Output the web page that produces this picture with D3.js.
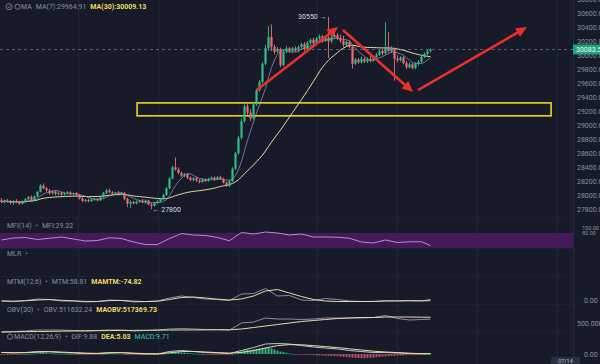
<!DOCTYPE html>
<html>
<head>
<meta charset="utf-8">
<script src="https://cdn.jsdelivr.net/npm/d3@7"></script>
<style>
  html, body { margin: 0; padding: 0; background: #161a29; }
  svg { display: block; font-family: Roboto, "Noto Sans", sans-serif; }
</style>
</head>
<body>
<svg id="chart" width="600" height="364"></svg>
<script>
// candles: [open, high, low, close]
var candles = [
  [27930,27960,27890,27905],[27905,27940,27880,27925],[27925,27950,27895,27910],[27910,27935,27870,27890],
  [27890,27930,27860,27915],[27915,27945,27890,27900],[27900,27920,27865,27880],[27880,27925,27870,27910],
  [27910,27960,27900,27945],[27945,27990,27930,27975],[27975,28000,27920,27935],[27935,28000,27925,27985],
  [27985,28060,27970,28050],[28050,28160,28040,28140],[28140,28170,28090,28100],[28100,28120,28050,28070],
  [28070,28090,28010,28030],[28030,28070,28010,28055],[28055,28070,28000,28020],[28020,28050,28000,28035],
  [28035,28050,27990,28010],[28010,28040,27995,28025],[28025,28060,28010,28040],[28040,28055,28000,28015],
  [28015,28040,27995,28030],[28030,28045,27990,28005],[28005,28020,27940,27955],[27955,27975,27900,27920],
  [27920,27950,27900,27935],[27935,27950,27900,27915],[27915,27955,27905,27940],[27940,27965,27920,27950],
  [27950,27965,27915,27930],[27930,27990,27920,27975],[27975,28050,27960,28035],[28035,28090,28020,28070],
  [28070,28095,28030,28045],[28045,28060,28010,28025],[28025,28050,28005,28040],[28040,28060,27995,28010],
  [28010,28045,28000,28030],[28030,28050,27930,27950],[27950,27965,27830,27880],[27880,27930,27820,27905],
  [27905,27920,27870,27885],[27885,27925,27870,27910],[27910,27935,27890,27925],[27925,27950,27890,27900],
  [27900,27940,27880,27925],[27925,27935,27860,27870],[27870,27890,27800,27850],[27850,27905,27840,27890],
  [27890,27930,27875,27915],[27915,27960,27900,27945],[27945,28020,27935,28005],[28005,28120,27990,28100],
  [28100,28260,28090,28240],[28240,28420,28230,28400],[28400,28540,28350,28370],[28370,28400,28300,28320],
  [28320,28340,28260,28280],[28280,28320,28260,28300],[28300,28320,28230,28250],[28250,28270,28200,28220],
  [28220,28260,28200,28245],[28245,28260,28190,28210],[28210,28230,28170,28190],[28190,28240,28180,28225],
  [28225,28240,28190,28205],[28205,28250,28195,28235],[28235,28270,28220,28255],[28255,28270,28210,28225],
  [28225,28275,28215,28260],[28260,28280,28220,28235],[28235,28250,28170,28180],[28180,28200,28120,28140],
  [28140,28220,28120,28200],[28200,28400,28190,28380],[28380,28620,28360,28600],[28600,28850,28580,28820],
  [28820,29100,28800,29060],[29060,29300,29040,29270],[29270,29320,29150,29180],[29180,29230,29060,29100],
  [29100,29330,29080,29300],[29300,29520,29280,29500],[29500,29650,29480,29620],[29620,29900,29600,29880],
  [29880,30150,29860,30100],[30100,30420,30060,30260],[30260,30440,30060,30120],[30120,30150,30010,30050],
  [30050,30120,30030,30090],[30090,30110,29830,29860],[29860,30080,29840,30050],[30050,30130,30030,30100],
  [30100,30120,30040,30060],[30060,30120,30040,30100],[30100,30130,30050,30070],[30070,30140,30050,30120],
  [30120,30180,30100,30160],[30160,30190,30060,30090],[30090,30200,30070,30180],[30180,30240,30150,30220],
  [30220,30250,30140,30170],[30170,30260,30150,30240],[30240,30300,30200,30270],[30270,30290,30180,30210],
  [30210,30270,30190,30250],[30250,30550,29960,30200],[30200,30280,30180,30260],[30260,30310,30230,30290],
  [30290,30320,30220,30240],[30240,30300,30180,30210],[30210,30280,30120,30150],[30150,30210,30130,30190],
  [30190,30210,30100,30120],[30120,30140,29810,29880],[29880,29960,29860,29940],[29940,29960,29880,29900],
  [29900,29980,29880,29950],[29950,29970,29890,29910],[29910,29970,29890,29945],[29945,29990,29900,29925],
  [29925,29990,29910,29975],[29975,30030,29950,30010],[30010,30080,29990,30060],[30060,30090,30000,30030],
  [30030,30470,30010,30110],[30110,30330,30040,30060],[30060,30130,30030,30100],[30100,30110,29640,29950],
  [29950,30000,29900,29930],[29930,29990,29910,29970],[29970,29990,29870,29890],[29890,29920,29800,29830],
  [29830,29900,29810,29870],[29870,29890,29800,29820],[29820,29900,29800,29880],[29880,29930,29850,29910],
  [29910,30000,29890,29980],[29980,30040,29960,30020],[30020,30080,30000,30060],[30060,30100,30040,30083.5]
];

var priceTicks = [30800, 30600, 30400, 30200, 30000, 29800, 29600, 29400, 29200, 29000,
                  28800, 28600, 28400, 28200, 28000, 27800];
var lastPrice = 30083.5;
var highMark = { i: 109, price: 30550, label: '30550' };
var lowMark = { i: 50, price: 27800, label: '27800' };

// drawings, in (candle index, price)
var zoneBox = { i0: 45.2, i1: 183.2, p0: 29135, p1: 29320 };
var arrows = [
  { i0: 85.1, p0: 29504, i1: 112.2, p1: 30404 },
  { i0: 113.8, p0: 30361, i1: 137.2, p1: 29476 },
  { i0: 138.8, p0: 29504, i1: 175.2, p1: 30404 }
];
var timeGrid = [25.5, 52.2, 78.8, 105.2, 131.8, 158.5, 185.2];

// indicator samples (candle index)
var sampleIdx = [0,4,8,12,16,20,24,28,32,36,40,44,48,52,56,60,64,68,72,76,80,84,88,92,96,
                 100,104,108,112,116,120,124,128,132,136,140,143];
var mfi = [52,60,62,54,59,64,56,48,50,61,58,44,34,34,58,78,72,70,62,49,82,76,84,80,72,
           76,64,64,63,59,44,40,52,42,45,45,29.32];
var mtm = [-100,-150,-50,100,50,-100,-100,-200,-150,0,-50,-200,-150,-100,200,400,250,100,50,-50,
           600,650,1150,400,450,0,-50,150,50,-100,-150,-150,-50,-100,-50,-100,58.81];
var mamtm = [-100,-120,-80,0,40,-30,-90,-140,-150,-60,-40,-120,-160,-120,50,250,300,200,80,0,
             100,400,900,1050,700,350,50,-100,-150,-150,-150,-140,-110,-90,-80,-80,-74.82];
var obv = [473000,474500,476000,479000,479000,479000,477500,476000,477500,479000,479000,476000,
           477500,479000,482000,483500,482000,480500,480500,479000,500000,503000,515000,512000,
           512000,510500,512000,515000,515000,515000,515000,516500,522500,513500,509000,510500,511632.24];
var maobv = [473000,473500,474000,474500,475000,475500,476000,476500,477000,477300,477600,477900,
             478200,478500,478800,479000,479200,479400,479500,479600,482000,486500,491000,495500,
             500000,504500,507500,510500,513500,515000,516500,516500,518000,518000,518000,517400,517369.73];
var dif = [37,25,37,62,62,37,25,12,12,37,37,12,0,0,62,87,62,37,25,12,87,162,250,262,250,
           212,175,150,125,87,62,37,37,25,12,5,9.88];
var dea = [40,35,33,45,55,48,35,22,15,25,32,22,10,5,30,60,65,50,35,22,40,85,150,210,235,
           230,210,185,160,130,100,70,50,35,20,8,5.03];
var macdHist = [
  -10,-8,-6,-8,-6,-5,-6,-4,2,6,4,
  10,18,28,30,26,20,
  15,12,8,6,5,3,1,-1,-3,
  -10,-15,-16,-17,-16,-14,-12,
  -6,2,10,12,11,10,8,7,
  -2,-12,-14,-15,-14,-12,-11,-12,-14,
  -16,-13,-9,-4,
  4,15,30,45,50,46,40,33,26,
  18,12,8,3,0,-2,-3,-4,-5,-6,-8,-14,-20,-18,
  -5,15,40,65,90,100,105,115,125,135,145,155,150,140,110,85,60,45,30,15,
  5,-3,-8,
  -15,-18,-22,-25,-28,-32,-35,-38,-42,-45,-48,
  -52,-58,-64,-70,-76,-82,-90,-96,-100,-104,-104,-100,-96,-90,-82,-74,
  -66,-60,-54,-50,-46,-42,-38,
  -34,-30,-26,-22,-18,-14,-8,
  3,6,9.71
];

var W = 600, H = 364, plotW = 573
  , up = '#2ebd85', down = '#ee6b73'
  , textGray = '#8b90a2', yellow = '#eedc62'
  ;

var closes = candles.map(function (d) { return d[3]; });
function sma(n) {
  return closes.map(function (v, i) {
    return d3.mean(closes.slice(Math.max(0, i - n + 1), i + 1));
  });
}
var ma7 = sma(7), ma30 = sma(30);

var x = d3.scaleLinear().domain([-0.5, 190.5]).range([0, plotW]);
var priceY = d3.scaleLinear().domain([27800, 30600]).range([209.3, 13.3]);
var mfiY = d3.scaleLinear().domain([0, 100]).range([253, 228]);
var mtmY = d3.scaleLinear().domain([0, 1200]).range([300, 288]);
var obvY = d3.scaleLinear().domain([500000, 530000]).range([323, 313]);
var macdY = d3.scaleLinear().domain([0, 250]).range([354, 344]);

var svg = d3.select('#chart');
svg.append('rect').attr('width', W).attr('height', H).attr('fill', '#161a29');

// grid
var grid = svg.append('g').attr('stroke', '#20253a').attr('stroke-width', 1);
grid.selectAll('line').data(timeGrid).enter().append('line')
  .attr('x1', function (d) { return Math.round(x(d)) + 0.5; })
  .attr('x2', function (d) { return Math.round(x(d)) + 0.5; })
  .attr('y1', 0).attr('y2', H);
[217.5, 248.5, 276.5, 304.5, 332.5].forEach(function (y) {
  grid.append('line').attr('x1', 0).attr('x2', plotW).attr('y1', y).attr('y2', y).attr('stroke', '#1d2233');
});

// MFI band
svg.append('rect').attr('x', 0).attr('width', plotW)
  .attr('y', mfiY(80)).attr('height', mfiY(20) - mfiY(80))
  .attr('fill', '#45195a');

// zone box
svg.append('rect')
  .attr('x', x(zoneBox.i0)).attr('width', x(zoneBox.i1) - x(zoneBox.i0))
  .attr('y', priceY(zoneBox.p1)).attr('height', priceY(zoneBox.p0) - priceY(zoneBox.p1))
  .attr('fill', 'none').attr('stroke', '#f2d21b').attr('stroke-width', 1.6);

// moving averages
function maLine(vals) {
  return d3.line().x(function (d, i) { return x(i); }).y(function (d) { return priceY(d); })(vals);
}
svg.append('path').attr('d', maLine(ma30)).attr('fill', 'none').attr('stroke', '#e6df9c').attr('stroke-width', 1);
svg.append('path').attr('d', maLine(ma7)).attr('fill', 'none').attr('stroke', '#a79fd2').attr('stroke-width', 0.8).attr('opacity', 0.85);

// candles
var cg = svg.append('g').selectAll('g').data(candles).enter().append('g')
  .attr('fill', function (d) { return d[3] >= d[0] ? up : down; })
  .attr('stroke', function (d) { return d[3] >= d[0] ? up : down; });
cg.append('line')
  .attr('x1', function (d, i) { return x(i); })
  .attr('x2', function (d, i) { return x(i); })
  .attr('y1', function (d) { return priceY(d[1]); })
  .attr('y2', function (d) { return priceY(d[2]); })
  .attr('stroke-width', 0.9);
cg.append('rect')
  .attr('x', function (d, i) { return x(i) - 1.1; })
  .attr('width', 2.2)
  .attr('y', function (d) { return priceY(Math.max(d[0], d[3])); })
  .attr('height', function (d) { return Math.max(1, Math.abs(priceY(d[0]) - priceY(d[3]))); })
  .attr('stroke', 'none');

// last price line
svg.append('line').attr('x1', 0).attr('x2', plotW)
  .attr('y1', priceY(lastPrice)).attr('y2', priceY(lastPrice))
  .attr('stroke', '#7f8fa0').attr('stroke-width', 0.8).attr('stroke-dasharray', '3,3').attr('opacity', 0.8);

// arrows
arrows.forEach(function (a) {
  var x0 = x(a.i0), y0 = priceY(a.p0), x1 = x(a.i1), y1 = priceY(a.p1)
    , dx = x1 - x0, dy = y1 - y0, len = Math.sqrt(dx * dx + dy * dy)
    , ux = dx / len, uy = dy / len, hl = 11, hw = 5
    ;
  svg.append('line').attr('x1', x0).attr('y1', y0)
    .attr('x2', x1 - ux * 8).attr('y2', y1 - uy * 8)
    .attr('stroke', '#e8302c').attr('stroke-width', 2.6);
  var bx = x1 - ux * hl, by = y1 - uy * hl;
  svg.append('path')
    .attr('d', 'M' + x1 + ',' + y1 + 'L' + (bx - uy * hw) + ',' + (by + ux * hw) + 'L' + (bx + uy * hw) + ',' + (by - ux * hw) + 'Z')
    .attr('fill', '#e8302c');
});

// high / low marks
svg.append('text').attr('x', x(highMark.i) - 2).attr('y', priceY(highMark.price) + 2.5)
  .attr('text-anchor', 'end').attr('font-size', 7).attr('fill', '#d8dbe6')
  .text(highMark.label + ' \u2192');
svg.append('text').attr('x', x(lowMark.i) + 1).attr('y', priceY(lowMark.price) + 2.5)
  .attr('font-size', 7).attr('fill', '#d8dbe6')
  .text('\u2190 ' + lowMark.label);

// indicator lines
function indLine(vals, yScale) {
  return d3.line().x(function (d, k) { return x(sampleIdx[k]); }).y(function (d) { return yScale(d); })(vals);
}
function drawInd(vals, yScale, color, w) {
  svg.append('path').attr('d', indLine(vals, yScale)).attr('fill', 'none')
    .attr('stroke', color).attr('stroke-width', w || 1);
}
drawInd(mfi, mfiY, '#c49be0', 0.9);
drawInd(mtm, mtmY, '#9d96bd', 0.9);
drawInd(mamtm, mtmY, '#e6df9c', 1);
drawInd(obv, obvY, '#9d96bd', 0.9);
drawInd(maobv, obvY, '#e6df9c', 1);

// macd histogram
svg.append('g').selectAll('rect').data(macdHist).enter().append('rect')
  .attr('x', function (d, i) { return x(i) - 1; })
  .attr('width', 2)
  .attr('y', function (d) { return Math.min(macdY(d), macdY(0)); })
  .attr('height', function (d) { return Math.max(0.8, Math.abs(macdY(d) - macdY(0))); })
  .attr('fill', function (d) { return d >= 0 ? up : down; })
  .attr('opacity', function (d) { return d >= 0 ? 0.95 : 0.75; });
drawInd(dif, macdY, '#d8d8e8', 0.9);
drawInd(dea, macdY, '#e6df9c', 1);

// right axes
function rightAxis(scale, ticks, fmt) {
  var g = svg.append('g').attr('transform', 'translate(' + plotW + ',0)')
    .call(d3.axisRight(scale).tickValues(ticks).tickSize(0).tickPadding(4).tickFormat(fmt));
  g.select('.domain').remove();
  g.selectAll('text').attr('fill', textGray).attr('font-size', 7).attr('font-family', 'Roboto, sans-serif');
  return g;
}
svg.append('line').attr('x1', plotW + 0.5).attr('x2', plotW + 0.5).attr('y1', 0).attr('y2', H).attr('stroke', '#262b3d');
rightAxis(priceY, priceTicks, d3.format('.2f'));
rightAxis(mfiY, [100, 80], d3.format('.2f')).selectAll('text').attr('font-size', 5.5).attr('dx', 5);
rightAxis(mtmY, [0], d3.format('.2f')).selectAll('text').attr('dx', 7);
rightAxis(obvY, [500000], function (d) { return (d / 1000).toFixed(2) + 'k'; });
rightAxis(macdY, [0], d3.format('.2f')).selectAll('text').attr('dx', 7);

// last price tag
var ly = priceY(lastPrice);
svg.append('rect').attr('x', plotW).attr('y', ly - 5).attr('width', 27).attr('height', 10).attr('fill', '#1fa47a');
svg.append('text').attr('x', plotW + 3).attr('y', ly + 2.5).attr('font-size', 7).attr('fill', '#eafff6')
  .text(d3.format('.2f')(lastPrice));

// bottom time tag
svg.append('rect').attr('x', 551).attr('y', 357).attr('width', 29).attr('height', 10).attr('rx', 1.5).attr('fill', '#2b3042');
svg.append('text').attr('x', 565.5).attr('y', 363).attr('text-anchor', 'middle').attr('font-size', 5.5).attr('fill', '#b8bccb').text('07/14');

// legends
var legends = [
  { y: 6.7, parts: [['MA', textGray], ['MA(7):29964.91', textGray], ['MA(30):30009.13', yellow, true]], x: 21 },
  { y: 225.7, parts: [['MFI(14)', textGray], ['\u2022', textGray], ['MFI:29.32', textGray]], x: 7 },
  { y: 253.3, parts: [['MLR', textGray], ['\u2022', textGray]], x: 7 },
  { y: 281.7, parts: [['MTM(12,6)', textGray], ['\u2022', textGray], ['MTM:58.81', textGray], ['MAMTM:-74.82', yellow, true]], x: 7 },
  { y: 309.7, parts: [['OBV(30)', textGray], ['\u2022', textGray], ['OBV:511632.24', textGray], ['MAOBV:517369.73', yellow, true]], x: 7 },
  { y: 336.7, parts: [['MACD(12,26,9)', textGray], ['\u2022', textGray], ['DIF:9.88', textGray], ['DEA:5.03', yellow, true], ['MACD:9.71', '#3cc9a6']], x: 14 }
];
legends.forEach(function (l) {
  var t = svg.append('text').attr('x', l.x).attr('y', l.y + 2.4).attr('font-size', 7);
  l.parts.forEach(function (p, k) {
    t.append('tspan').attr('dx', k ? 4 : 0).attr('fill', p[1])
      .attr('font-weight', p[2] ? 'bold' : 'normal').text(p[0]);
  });
});
// small icons
svg.append('circle').attr('cx', 9).attr('cy', 6.7).attr('r', 3).attr('fill', 'none').attr('stroke', textGray).attr('stroke-width', 0.8);
svg.append('path').attr('d', 'M7.6,6.8L8.7,7.9L10.5,5.6').attr('fill', 'none').attr('stroke', textGray).attr('stroke-width', 0.8);
svg.append('circle').attr('cx', 17.5).attr('cy', 6.7).attr('r', 2.6).attr('fill', 'none').attr('stroke', textGray).attr('stroke-width', 0.8);
svg.append('circle').attr('cx', 10).attr('cy', 336.7).attr('r', 2.6).attr('fill', 'none').attr('stroke', textGray).attr('stroke-width', 0.8);
</script>
</body>
</html>
